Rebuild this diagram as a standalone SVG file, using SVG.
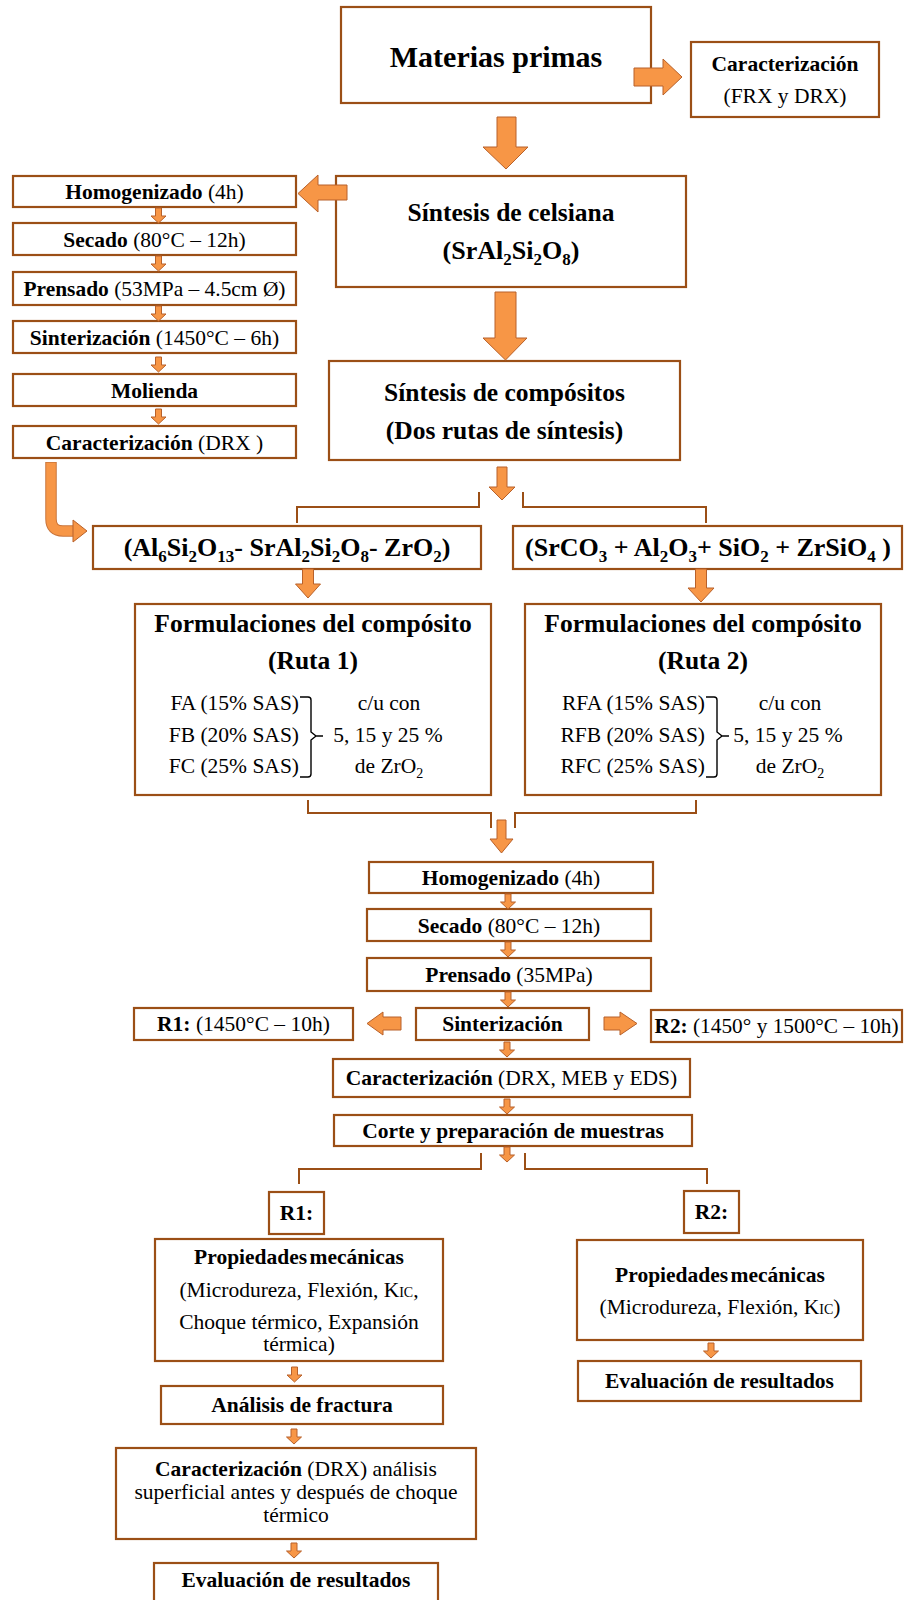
<svg xmlns="http://www.w3.org/2000/svg" width="904" height="1600" viewBox="0 0 904 1600">
<style>
.box{fill:#fff;stroke:#9B4F16;stroke-width:2.2}
.arr{fill:#F79646;stroke:#B8612A;stroke-width:1}
.br{fill:none;stroke:#9B4F16;stroke-width:2}
.brace{fill:none;stroke:#000;stroke-width:1.4}
text{font-family:"Liberation Serif","Times New Roman",serif;font-size:21.5px;fill:#000;text-anchor:middle}
.b{font-weight:bold}
.h{font-size:25.5px;font-weight:bold}
.f{font-size:26px;font-weight:bold}
.s{font-size:17px}
.ss{font-size:14px}
.e{text-anchor:end}
</style>
<defs>
<path id="sa" class="arr" d="M -3 0 H 3 V 8 H 7.5 L 0 15 L -7.5 8 H -3 Z"/>
</defs>
<rect width="904" height="1600" fill="#fff"/>

<g id="n-materias"><rect class="box" x="341" y="7" width="310" height="96"/><text class="b" x="496" y="67" style="font-size:30px">Materias primas</text></g>
<g id="n-caract-top"><rect class="box" x="691" y="42" width="188" height="75"/><text class="b" x="785" y="71">Caracterización</text><text x="785" y="103">(FRX y DRX)</text></g>
<g id="n-celsiana"><rect class="box" x="336" y="176" width="350" height="111"/><text class="h" x="511" y="221">Síntesis de celsiana</text><text class="f" x="511" y="259">(SrAl<tspan class="s" dy="6">2</tspan><tspan dy="-6">Si</tspan><tspan class="s" dy="6">2</tspan><tspan dy="-6">O</tspan><tspan class="s" dy="6">8</tspan><tspan dy="-6">)</tspan></text></g>

<g id="n-l-homog"><rect class="box" x="13" y="176" width="283" height="31"/><text x="154.5" y="199"><tspan class="b">Homogenizado</tspan> (4h)</text></g>
<g id="n-l-secado"><rect class="box" x="13" y="223" width="283" height="32"/><text x="154.5" y="247"><tspan class="b">Secado</tspan> (80°C – 12h)</text></g>
<g id="n-l-prensado"><rect class="box" x="13" y="272" width="283" height="33"/><text x="154.5" y="296" textLength="262" lengthAdjust="spacingAndGlyphs"><tspan class="b">Prensado</tspan> (53MPa – 4.5cm Ø)</text></g>
<g id="n-l-sinter"><rect class="box" x="13" y="321" width="283" height="32"/><text x="154.5" y="345"><tspan class="b">Sinterización</tspan> (1450°C – 6h)</text></g>
<g id="n-l-molienda"><rect class="box" x="13" y="374" width="283" height="32"/><text class="b" x="154.5" y="398">Molienda</text></g>
<g id="n-l-caract"><rect class="box" x="13" y="426" width="283" height="32"/><text x="154.5" y="450"><tspan class="b">Caracterización</tspan> (DRX )</text></g>

<g id="n-compositos"><rect class="box" x="329" y="361" width="351" height="99"/><text class="h" x="504.5" y="401">Síntesis de compósitos</text><text class="h" x="504.5" y="439">(Dos rutas de síntesis)</text></g>

<g id="n-form1"><rect class="box" x="93" y="526" width="388" height="43"/><text class="f" x="287" y="556">(Al<tspan class="s" dy="6">6</tspan><tspan dy="-6">Si</tspan><tspan class="s" dy="6">2</tspan><tspan dy="-6">O</tspan><tspan class="s" dy="6">13</tspan><tspan dy="-6">- SrAl</tspan><tspan class="s" dy="6">2</tspan><tspan dy="-6">Si</tspan><tspan class="s" dy="6">2</tspan><tspan dy="-6">O</tspan><tspan class="s" dy="6">8</tspan><tspan dy="-6">- ZrO</tspan><tspan class="s" dy="6">2</tspan><tspan dy="-6">)</tspan></text></g>
<g id="n-form2"><rect class="box" x="513" y="526" width="389" height="43"/><text class="f" x="708" y="556">(SrCO<tspan class="s" dy="6">3</tspan><tspan dy="-6"> + Al</tspan><tspan class="s" dy="6">2</tspan><tspan dy="-6">O</tspan><tspan class="s" dy="6">3</tspan><tspan dy="-6">+ SiO</tspan><tspan class="s" dy="6">2</tspan><tspan dy="-6"> + ZrSiO</tspan><tspan class="s" dy="6">4</tspan><tspan dy="-6"> )</tspan></text></g>

<g id="n-ruta1"><rect class="box" x="135" y="604" width="356" height="191"/>
<text class="h" x="313" y="632">Formulaciones del compósito</text>
<text class="h" x="313" y="669">(Ruta 1)</text>
<text class="e" x="299" y="710">FA (15% SAS)</text>
<text class="e" x="299" y="742">FB (20% SAS)</text>
<text class="e" x="299" y="773">FC (25% SAS)</text>
<path class="brace" d="M 300 697 H 308 Q 311 697 311 700 V 732 L 316 736 L 311 740 V 774 Q 311 777 308 777 H 300 M 316 736 H 323"/>
<text x="389" y="710">c/u con</text>
<text x="388" y="742">5, 15 y 25 %</text>
<text x="389" y="773">de ZrO<tspan class="ss" dy="5">2</tspan></text>
</g>
<g id="n-ruta2"><rect class="box" x="525" y="604" width="356" height="191"/>
<text class="h" x="703" y="632">Formulaciones del compósito</text>
<text class="h" x="703" y="669">(Ruta 2)</text>
<text class="e" x="705" y="710">RFA (15% SAS)</text>
<text class="e" x="705" y="742">RFB (20% SAS)</text>
<text class="e" x="705" y="773">RFC (25% SAS)</text>
<path class="brace" d="M 706 697 H 714 Q 717 697 717 700 V 732 L 722 736 L 717 740 V 774 Q 717 777 714 777 H 706 M 722 736 H 729"/>
<text x="790" y="710">c/u con</text>
<text x="788" y="742">5, 15 y 25 %</text>
<text x="790" y="773">de ZrO<tspan class="ss" dy="5">2</tspan></text>
</g>

<g id="n-m-homog"><rect class="box" x="369" y="862" width="284" height="31"/><text x="511" y="885"><tspan class="b">Homogenizado</tspan> (4h)</text></g>
<g id="n-m-secado"><rect class="box" x="367" y="909" width="284" height="32"/><text x="509" y="933"><tspan class="b">Secado</tspan> (80°C – 12h)</text></g>
<g id="n-m-prensado"><rect class="box" x="367" y="958" width="284" height="33"/><text x="509" y="982"><tspan class="b">Prensado</tspan> (35MPa)</text></g>
<g id="n-m-sinter"><rect class="box" x="416" y="1008" width="173" height="32"/><text class="b" x="502.5" y="1031">Sinterización</text></g>
<g id="n-r1-sinter"><rect class="box" x="134" y="1008" width="219" height="32"/><text x="243.5" y="1031"><tspan class="b">R1:</tspan> (1450°C – 10h)</text></g>
<g id="n-r2-sinter"><rect class="box" x="651" y="1010" width="251" height="32"/><text x="776.5" y="1033" textLength="244" lengthAdjust="spacingAndGlyphs"><tspan class="b">R2:</tspan> (1450° y 1500°C – 10h)</text></g>
<g id="n-m-caract"><rect class="box" x="333" y="1059" width="357" height="38"/><text x="511.5" y="1085"><tspan class="b">Caracterización</tspan> (DRX, MEB y EDS)</text></g>
<g id="n-corte"><rect class="box" x="334" y="1115" width="358" height="31"/><text class="b" x="513" y="1138">Corte y preparación de muestras</text></g>

<g id="n-r1"><rect class="box" x="269" y="1192" width="55" height="42"/><text class="b" x="296.5" y="1220">R1:</text></g>
<g id="n-r2"><rect class="box" x="684" y="1191" width="55" height="42"/><text class="b" x="711.5" y="1219">R2:</text></g>

<g id="n-prop1"><rect class="box" x="155" y="1239" width="288" height="122"/>
<text class="b" x="299" y="1264" word-spacing="-3">Propiedades mecánicas</text>
<text x="299" y="1297">(Microdureza, Flexión, K<tspan class="ss">IC</tspan>,</text>
<text x="299" y="1329">Choque térmico, Expansión</text>
<text x="299" y="1351">térmica)</text>
</g>
<g id="n-prop2"><rect class="box" x="577" y="1240" width="286" height="100"/>
<text class="b" x="720" y="1282" word-spacing="-3">Propiedades mecánicas</text>
<text x="720" y="1314">(Microdureza, Flexión, K<tspan class="ss">IC</tspan>)</text>
</g>
<g id="n-eval2"><rect class="box" x="578" y="1361" width="283" height="40"/><text class="b" x="719.5" y="1388">Evaluación de resultados</text></g>
<g id="n-fractura"><rect class="box" x="161" y="1386" width="282" height="38"/><text class="b" x="302" y="1412">Análisis de fractura</text></g>
<g id="n-caract-r1"><rect class="box" x="116" y="1448" width="360" height="91"/>
<text x="296" y="1476"><tspan class="b">Caracterización</tspan> (DRX) análisis</text>
<text x="296" y="1499">superficial antes y después de choque</text>
<text x="296" y="1522">térmico</text>
</g>
<g id="n-eval1"><rect class="box" x="154" y="1563" width="284" height="40"/><text class="b" x="296" y="1587">Evaluación de resultados</text></g>

<g id="connectors">
<polygon class="arr" points="634,68 663,68 663,59 682,77 663,95 663,86 634,86"/>
<polygon class="arr" points="497,117 516,117 516,147 528,147 506,169 483,147 497,147"/>
<polygon class="arr" points="347,185 318,185 318,175 298,193.5 318,212 318,200 347,200"/>
<polygon class="arr" points="495,292 516,292 516,338 527,338 505.5,360 483,338 495,338"/>
<use href="#sa" x="158.5" y="208"/>
<use href="#sa" x="158.5" y="256"/>
<use href="#sa" x="158.5" y="306"/>
<use href="#sa" x="158.5" y="357"/>
<use href="#sa" x="158.5" y="409"/>
<path d="M 51 462 V 519 Q 51 531 63 531 H 75" fill="none" stroke="#C9743A" stroke-width="11.5"/>
<path d="M 51 462.8 V 519 Q 51 531 63 531 H 75" fill="none" stroke="#F79646" stroke-width="9.5"/>
<polygon class="arr" points="73,520 87,531 73,542"/>
<polygon class="arr" points="497,467 507,467 507,487 515,487 502,500 489,487 497,487"/>
<path class="br" d="M 479 492 V 507 H 297 V 523 M 523 492 V 507 H 706 V 523"/>
<polygon class="arr" points="302.5,569 313.5,569 313.5,584 320.5,584 308,598 295.5,584 302.5,584"/>
<polygon class="arr" points="695.5,569 706.5,569 706.5,588 714,588 701,602 688,588 695.5,588"/>
<path class="br" d="M 308 800 V 813 H 491 V 828 M 696 800 V 813 H 515 V 828"/>
<polygon class="arr" points="497,820 506,820 506,839 513,839 501.5,853 490,839 497,839"/>
<use href="#sa" x="508" y="894"/>
<use href="#sa" x="508" y="942"/>
<use href="#sa" x="508" y="992"/>
<polygon class="arr" points="401,1017 383,1017 383,1012 367,1023.5 383,1035 383,1030 401,1030"/>
<polygon class="arr" points="604,1017 620,1017 620,1012 637,1023.5 620,1035 620,1030 604,1030"/>
<use href="#sa" x="507" y="1042"/>
<use href="#sa" x="507" y="1099"/>
<use href="#sa" x="507" y="1147"/>
<path class="br" d="M 481 1153 V 1169 H 299 V 1184 M 525 1153 V 1169 H 707 V 1184"/>
<use href="#sa" x="711" y="1343"/>
<use href="#sa" x="294.5" y="1367"/>
<use href="#sa" x="294" y="1429"/>
<use href="#sa" x="294" y="1543"/>
</g>
</svg>
